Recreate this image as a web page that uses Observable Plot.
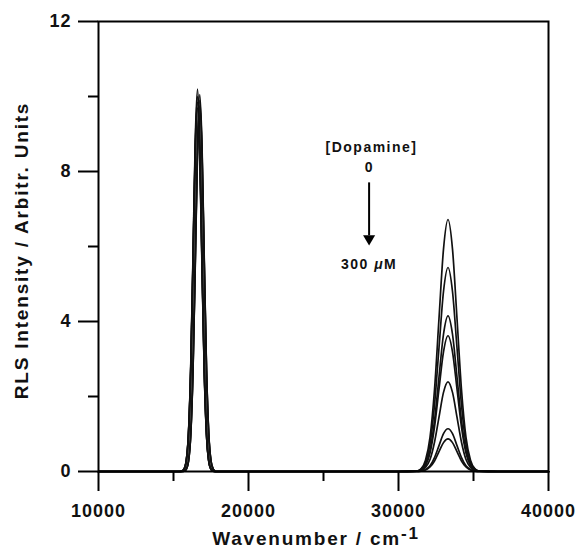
<!DOCTYPE html>
<html><head><meta charset="utf-8">
<script src="https://cdn.jsdelivr.net/npm/d3@7"></script>
<script src="https://cdn.jsdelivr.net/npm/@observablehq/plot@0.6"></script>
<style>
html,body{margin:0;padding:0;background:#fff;}
#chart svg text{letter-spacing:1px;}
</style></head><body><div id="chart"></div>
<script>
// Wavenumber sample points (cm-1)
const wavenumber = [10000,
  15400, 15550, 15700, 15850, 16000, 16150, 16300, 16450, 16600, 16750, 16900, 17050, 17200, 17350, 17500, 17650, 17800,
  30000, 31200, 31500, 31800, 32100, 32400, 32700, 33000, 33300, 33600, 33900, 34200, 34500, 34800, 35100, 35400, 36600,
  40000];

// RLS intensity spectra, [Dopamine] from 0 to 300 uM
const intensity1 = [0,
  0, 0.01, 0.06, 0.29, 1.03, 2.81, 5.74, 8.84, 10.2, 8.84, 5.74, 2.81, 1.03, 0.29, 0.06, 0.01, 0,
  0, 0.01, 0.07, 0.30, 0.91, 2.18, 4.08, 5.93, 6.72, 5.93, 4.08, 2.18, 0.91, 0.30, 0.07, 0.01, 0,
  0];
const intensity2 = [0,
  0, 0, 0.01, 0.06, 0.28, 1.02, 2.76, 5.66, 8.71, 10.05, 8.71, 5.66, 2.76, 1.02, 0.28, 0.06, 0,
  0, 0.01, 0.06, 0.24, 0.73, 1.77, 3.30, 4.80, 5.44, 4.80, 3.30, 1.77, 0.73, 0.24, 0.06, 0.01, 0,
  0];
const intensity3 = [0,
  0, 0.01, 0.06, 0.28, 1.01, 2.75, 5.63, 8.67, 10.0, 8.67, 5.63, 2.75, 1.01, 0.28, 0.06, 0.01, 0,
  0, 0.01, 0.05, 0.18, 0.56, 1.35, 2.52, 3.66, 4.15, 3.66, 2.52, 1.35, 0.56, 0.18, 0.05, 0.01, 0,
  0];
const intensity4 = [0,
  0, 0, 0.01, 0.06, 0.28, 1.00, 2.72, 5.57, 8.58, 9.9, 8.58, 5.57, 2.72, 1.00, 0.28, 0.06, 0,
  0, 0.01, 0.04, 0.16, 0.49, 1.18, 2.20, 3.19, 3.62, 3.19, 2.20, 1.18, 0.49, 0.16, 0.04, 0.01, 0,
  0];
const intensity5 = [0,
  0, 0.01, 0.06, 0.28, 0.99, 2.71, 5.55, 8.54, 9.85, 8.54, 5.55, 2.71, 0.99, 0.28, 0.06, 0.01, 0,
  0, 0.01, 0.03, 0.11, 0.32, 0.78, 1.45, 2.11, 2.39, 2.11, 1.45, 0.78, 0.32, 0.11, 0.03, 0.01, 0,
  0];
const intensity6 = [0,
  0, 0, 0.01, 0.06, 0.27, 0.98, 2.68, 5.49, 8.45, 9.75, 8.45, 5.49, 2.68, 0.98, 0.27, 0.06, 0,
  0, 0, 0.01, 0.05, 0.15, 0.37, 0.69, 1.01, 1.14, 1.01, 0.69, 0.37, 0.15, 0.05, 0.01, 0, 0,
  0];
const intensity7 = [0,
  0, 0.01, 0.06, 0.27, 0.98, 2.67, 5.46, 8.41, 9.7, 8.41, 5.46, 2.67, 0.98, 0.27, 0.06, 0.01, 0,
  0, 0, 0.01, 0.04, 0.12, 0.28, 0.53, 0.77, 0.87, 0.77, 0.53, 0.28, 0.12, 0.04, 0.01, 0, 0,
  0];

const xMajorTicks = [10000, 20000, 30000, 40000];
const xMinorTicks = [15000, 25000, 35000];
const yMajorTicks = [0, 4, 8, 12];
const yMinorTicks = [2, 6, 10];

const spectra = [intensity1, intensity2, intensity3, intensity4, intensity5, intensity6, intensity7];
const rows = spectra.flatMap((s, i) => s.map((v, j) => ({wavenumber: wavenumber[j], intensity: v, spectrum: i})));

const font = "'Liberation Sans', Arial, Helvetica, sans-serif";
const plot = Plot.plot({
  width: 576, height: 547,
  marginLeft: 98, marginRight: 28, marginTop: 21, marginBottom: 76,
  style: {fontFamily: font, background: "#fff", color: "#000", overflow: "visible"},
  x: {domain: [10000, 40000]},
  y: {domain: [0, 12]},
  marks: [
    Plot.line(rows, {x: "wavenumber", y: "intensity", z: "spectrum", stroke: "#111", strokeWidth: 1.7, curve: "monotone-x"}),
    Plot.frame({stroke: "#000", strokeWidth: 2}),
    Plot.axisX({ticks: xMajorTicks, tickSize: 20, tickPadding: 13, stroke: "#000", strokeWidth: 2, fontSize: 18, fontWeight: "bold", fill: "#111", tickFormat: d => String(d), label: null}),
    Plot.axisX({ticks: xMinorTicks, tickSize: 10, stroke: "#000", strokeWidth: 2, tickFormat: () => "", label: null}),
    Plot.axisY({ticks: yMajorTicks, tickSize: 20, tickPadding: 7, stroke: "#000", strokeWidth: 2, fontSize: 18, fontWeight: "bold", fill: "#111", tickFormat: d => String(d), label: null}),
    Plot.axisY({ticks: yMinorTicks, tickSize: 10, stroke: "#000", strokeWidth: 2, tickFormat: () => "", label: null}),
    Plot.text(["Wavenumber / cm-1"], {frameAnchor: "bottom", textAnchor: "middle", dy: 73, dx: -7.5, lineAnchor: "bottom", fontSize: 19, fontWeight: "bold", fill: "#111"}),
    Plot.text(["RLS Intensity / Arbitr. Units"], {frameAnchor: "left", textAnchor: "middle", rotate: -90, dx: -71, dy: 4, lineAnchor: "bottom", fontSize: 19, fontWeight: "bold", fill: "#111"}),
    Plot.text(["[Dopamine]"], {x: 28200, y: 8.53, lineAnchor: "bottom", fontSize: 14, fontWeight: "bold", fill: "#111"}),
    Plot.text(["0"], {x: 28040, y: 8.0, lineAnchor: "bottom", fontSize: 14, fontWeight: "bold", fill: "#111"}),
    Plot.text(["300 μM"], {x: 28040, y: 5.40, lineAnchor: "bottom", fontSize: 14, fontWeight: "bold", fill: "#111"}),
    Plot.link([0], {x1: 28040, y1: 7.71, x2: 28040, y2: 6.3, stroke: "#000", strokeWidth: 2}),
    Plot.dot([0], {x: 28040, y: 6.21, symbol: "triangle", r: 4.5, fill: "#000", rotate: 180})
  ]
});

d3.select(plot).selectAll("text").each(function() {
  const t = this.textContent;
  const sel = d3.select(this);
  if (t === "Wavenumber / cm-1") {
    sel.text(null).style("letter-spacing", "1.8px");
    sel.append("tspan").text("Wavenumber / cm");
    sel.append("tspan").attr("dy", "-0.33em").attr("font-size", "0.9em").text("-1");
  } else if (t === "RLS Intensity / Arbitr. Units") {
    sel.style("letter-spacing", "1.8px");
  } else if (t === "300 μM") {
    sel.text(null).style("letter-spacing", "1.5px");
    sel.append("tspan").text("300 ");
    sel.append("tspan").attr("font-style", "italic").text("μ");
    sel.append("tspan").text("M");
  } else if (t === "[Dopamine]") {
    sel.style("letter-spacing", "1.5px");
  }
});

document.getElementById("chart").appendChild(plot);
</script>
</body></html>
